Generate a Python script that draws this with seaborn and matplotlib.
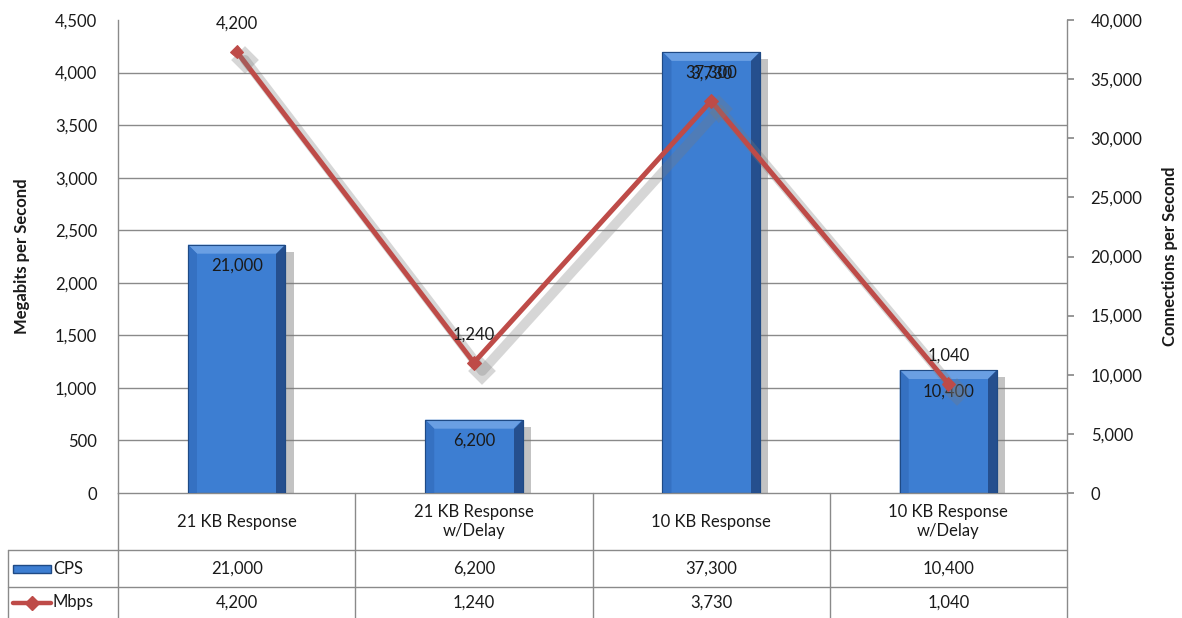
import numpy as np
import seaborn as sns
import matplotlib.pyplot as plt
import matplotlib.patheffects as pe
from matplotlib.patches import Polygon, Rectangle
from matplotlib.lines import Line2D
from matplotlib.transforms import blended_transform_factory

categories = ['21 KB Response', '21 KB Response\nw/Delay', '10 KB Response', '10 KB Response\nw/Delay']
cps = [21000, 6200, 37300, 10400]
mbps = [4200, 1240, 3730, 1040]
series_names = ['CPS', 'Mbps']
cps_ticks = list(range(0, 40001, 5000))
mbps_ticks = list(range(0, 4501, 500))

sns.set_theme(style='white')
plt.rcParams['font.family'] = ['Lato', 'DejaVu Sans']

W, H = 1182, 618
fig = plt.figure(figsize=(W / 100, H / 100), dpi=100)
ax = fig.add_axes([118 / W, 1 - 493 / H, 949 / W, 473 / H])
ax2 = ax.twinx()

grey = '#8A8A8A'
txt = '#1A1A1A'
bar_col = '#3D7ED2'
line_col = '#BE4B48'

# bars on the primary axis (CPS, shown on the right)
sns.barplot(x=np.arange(len(cps)), y=cps, ax=ax, width=0.41, color=bar_col,
            saturation=1, edgecolor='#1F4A85', linewidth=0.8, zorder=2)
ax.set_xlim(-0.5, len(cps) - 0.5)
ax.set_ylim(0, 40000)
ax.set_axisbelow(True)
ax.yaxis.tick_right()
ax.yaxis.set_label_position('right')
ax.set_yticks(cps_ticks)
ax.set_yticklabels([f'{v:,}' for v in cps_ticks])
ax.set_yticks(np.array(mbps_ticks) * 40000 / 4500, minor=True)
ax.yaxis.grid(True, which='minor', color=grey, lw=1)
ax.tick_params(axis='y', which='minor', length=0, left=False, right=False)
ax.tick_params(axis='y', which='major', direction='out', length=5, color=grey,
               pad=12, labelsize=12, labelcolor=txt, right=True, left=False,
               labelleft=False, labelright=True)
ax.tick_params(axis='x', length=0, labelbottom=False)
ax.set_xlabel('')
ax.set_ylabel('Connections per Second', fontsize=12, fontweight='bold', color=txt)
ax.yaxis.set_label_coords((1162 - 118) / 949, 0.5)
for s in ['left', 'right', 'bottom']:
    ax.spines[s].set_color(grey)
    ax.spines[s].set_linewidth(1)
ax.spines['top'].set_visible(False)

# bevel + shadow on bars
px_x = 949 / 4
px_y = 473 / 40000
bx, by = 9 / px_x, 9 / px_y
for p in list(ax.patches):
    p.set_path_effects([pe.SimplePatchShadow(offset=(6, -5), shadow_rgbFace='#7A7A7A', alpha=0.45), pe.Normal()])
    x0, w, top = p.get_x(), p.get_width(), p.get_height()
    ax.add_patch(Polygon([(x0, top), (x0 + w, top), (x0 + w - bx, top - by), (x0 + bx, top - by)],
                         closed=True, fc='#6A9FE3', ec='none', zorder=3))
    ax.add_patch(Polygon([(x0 + w, top), (x0 + w, 0), (x0 + w - bx, 0), (x0 + w - bx, top - by)],
                         closed=True, fc='#254F8E', ec='none', zorder=3))
    ax.add_patch(Polygon([(x0, top), (x0 + bx, top - by), (x0 + bx, 0), (x0, 0)],
                         closed=True, fc='#3571C2', ec='none', zorder=3))
    ax.add_patch(Rectangle((x0, 0), w, top, fc='none', ec='#1F4A85', lw=0.8, zorder=3))

ax.bar_label(ax.containers[0], labels=[f'{v:,}' for v in cps], padding=-21,
             fontsize=12, color=txt, zorder=4)

# line on the twin axis (Mbps, shown on the left)
sns.lineplot(x=np.arange(len(mbps)), y=mbps, ax=ax2, color=line_col, lw=3.6,
             marker='D', markersize=7, markeredgecolor=line_col,
             path_effects=[pe.SimpleLineShadow(offset=(6, -6), shadow_color='#7A7A7A', alpha=0.3, linewidth=7),
                           pe.Normal()])
ax2.set_xlim(-0.5, len(mbps) - 0.5)
ax2.set_ylim(0, 4500)
ax2.yaxis.tick_left()
ax2.yaxis.set_label_position('left')
ax2.set_yticks(mbps_ticks)
ax2.set_yticklabels([f'{v:,}' for v in mbps_ticks])
ax2.tick_params(axis='y', length=0, pad=15, labelsize=12, labelcolor=txt,
                left=True, right=False, labelleft=True, labelright=False)
ax2.set_ylabel('Megabits per Second', fontsize=12, fontweight='bold', color=txt)
ax2.yaxis.set_label_coords(-(118 - 30) / 949, 0.5)
for s in ax2.spines.values():
    s.set_visible(False)
for i, v in enumerate(mbps):
    ax2.annotate(f'{v:,}', (i, v), xytext=(0, 20), textcoords='offset points',
                 ha='center', va='center', fontsize=12, color=txt)

# data table below the plot
tr = blended_transform_factory(ax.transData, ax.transAxes)
ah = 473
y_cat = -57 / ah
y_cps = -94 / ah
y_bot = -125 / ah
x_left = -0.5 - 110 / px_x
lk = dict(color=grey, lw=1, clip_on=False, transform=tr)
for xb in np.arange(-0.5, len(categories), 1.0):
    ax.add_line(Line2D([xb, xb], [0, y_bot], **lk))
ax.add_line(Line2D([x_left, x_left], [y_cat, y_bot], **lk))
for yb in [y_cat, y_cps]:
    ax.add_line(Line2D([x_left, len(categories) - 0.5], [yb, yb], **lk))

for i, c in enumerate(categories):
    ax.text(i, y_cat / 2, c, transform=tr, ha='center', va='center', fontsize=12,
            color=txt, linespacing=1.3)
    ax.text(i, (y_cat + y_cps) / 2, f'{cps[i]:,}', transform=tr, ha='center', va='center',
            fontsize=12, color=txt)
    ax.text(i, (y_cps + y_bot) / 2, f'{mbps[i]:,}', transform=tr, ha='center', va='center',
            fontsize=12, color=txt)

# legend keys in the row headers
key_x0 = x_left + 5 / px_x
key_x1 = x_left + 43 / px_x
ax.add_patch(Rectangle((key_x0, (y_cat + y_cps) / 2 - 4 / ah), key_x1 - key_x0, 8 / ah,
                       transform=tr, fc=bar_col, ec='#1F4A85', lw=1, clip_on=False))
ax.add_line(Line2D([key_x0, (key_x0 + key_x1) / 2, key_x1], [(y_cps + y_bot) / 2] * 3,
                   color=line_col, lw=3.2, marker='D', markersize=7, markevery=[1],
                   clip_on=False, transform=tr))
ax.text(key_x1 + 2 / px_x, (y_cat + y_cps) / 2, series_names[0], transform=tr,
        ha='left', va='center', fontsize=12, color=txt)
ax.text(key_x1 + 2 / px_x, (y_cps + y_bot) / 2, series_names[1], transform=tr,
        ha='left', va='center', fontsize=12, color=txt)

fig.savefig('out.png', dpi=100)
